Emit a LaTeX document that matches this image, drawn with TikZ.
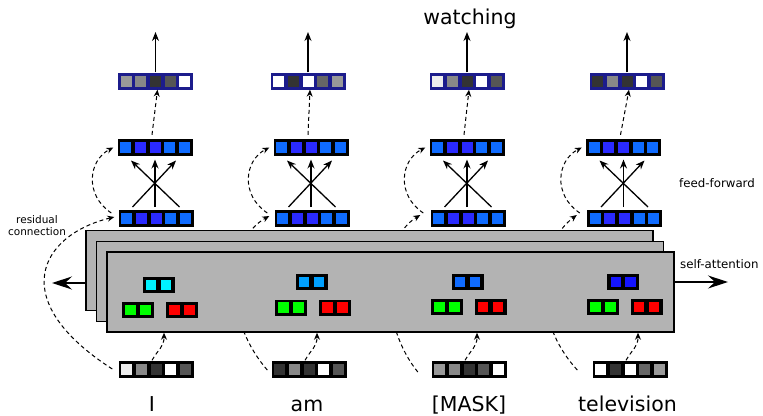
\documentclass[tikz,border=0pt]{standalone}
\usepackage{fontspec}
\setmainfont{DejaVu Sans}
\usetikzlibrary{arrows.meta,calc}

% palette
\definecolor{boxgray}{HTML}{B3B3B3}
\definecolor{embnavy}{HTML}{1C1C8C}
\definecolor{blA}{HTML}{0F6BFF}
\definecolor{blB}{HTML}{2A2AFF}
\definecolor{gE}{HTML}{EEEEEE}
\definecolor{gNine}{HTML}{999999}
\definecolor{gEight}{HTML}{888888}
\definecolor{gSix}{HTML}{666666}
\definecolor{gFive}{HTML}{555555}
\definecolor{gThree}{HTML}{333333}
\definecolor{qCyan}{HTML}{00F2FF}
\definecolor{qSky}{HTML}{00A0FF}
\definecolor{qMid}{HTML}{0F6BFF}
\definecolor{qDeep}{HTML}{1414FF}
\definecolor{kGreen}{HTML}{00FF00}
\definecolor{kRed}{HTML}{FF0000}

\tikzset{
  vecframe/.style={rectangle, inner sep=0, minimum width=75, minimum height=17},
  cellsq/.style={rectangle, inner sep=0, minimum size=11},
  pairframe/.style={rectangle, inner sep=0, minimum width=32, minimum height=16, fill=black},
  attnbox/.style={rectangle, draw=black, fill=boxgray, line width=1.5pt, minimum width=567, minimum height=80},
  solidarrow/.style={line width=1.3pt, -{Stealth[length=9pt,width=7pt]}},
  dasharrow/.style={line width=1pt, dash pattern=on 4pt off 3pt, -{Stealth[length=7pt,width=6pt]}},
  bigarrow/.style={line width=1.3pt, -{Stealth[length=20pt,width=13pt,inset=7pt]}},
  bigword/.style={font=\fontsize{20.5}{24}\selectfont, inner sep=0, anchor=base},
  sidenote/.style={font=\fontsize{11.8}{14}\selectfont, inner sep=0, anchor=base west},
}

% an embedding vector: name, position, frame colour, list of five cell colours
\newcommand{\embvec}[4]{%
  \node[vecframe, fill=#3] (#1) at (#2) {};
  \foreach \cc [count=\k from -2] in {#4}
    \node[cellsq, fill=\cc] at ($(#1.center)+(\k*14.7,0)$) {};
}
% a two-cell query/key/value block: name, position, colour
\newcommand{\qkvpair}[3]{%
  \node[pairframe] (#1) at (#2) {};
  \node[cellsq, minimum size=10.7, fill=#3] at ($(#1.center)+(-7.4,0)$) {};
  \node[cellsq, minimum size=10.7, fill=#3] at ($(#1.center)+(7.4,0)$) {};
}

\begin{document}
\begin{tikzpicture}[x=1pt, y=-1pt]
\useasboundingbox (0,0) rectangle (763,415);

% token embeddings
\embvec{b1}{156,369}{black}{gE,gEight,gThree,white,gFive}
\embvec{b2}{309,369}{black}{gThree,gEight,gThree,white,gFive}
\embvec{b3}{469,369}{black}{gNine,gEight,gThree,gFive,white}
\embvec{b4}{630,369}{black}{white,gThree,white,gSix,gNine}

% feed-forward inputs
\embvec{f1}{156,218}{black}{blA,blB,blB,blA,blA}
\embvec{f2}{312,218}{black}{blA,blB,blB,blA,blA}
\embvec{f3}{468,218}{black}{blA,blB,blB,blA,blA}
\embvec{f4}{624.5,218}{black}{blA,blB,blB,blA,blA}

% feed-forward outputs
\embvec{m1}{155,147.5}{black}{blA,blB,blB,blA,blA}
\embvec{m2}{311,147.5}{black}{blA,blB,blB,blA,blA}
\embvec{m3}{467,147.5}{black}{blA,blB,blB,blA,blA}
\embvec{m4}{623.5,147.5}{black}{blA,blB,blB,blA,blA}

% output distributions
\embvec{o1}{155.5,81}{embnavy}{gNine,gEight,gThree,gFive,white}
\embvec{o2}{308,81}{embnavy}{white,gThree,white,gSix,gNine}
\embvec{o3}{467,81}{embnavy}{gE,gEight,gThree,white,gFive}
\embvec{o4}{627,81}{embnavy}{gThree,gEight,gThree,white,gFive}

% residual connections around the attention block (partly hidden by it)
\draw[dasharrow] ($(b1.west)+(-6,0)$) .. controls (5,300) and (40,235) .. ($(f1.west)+(-4,-1)$);
\draw[dasharrow] ($(b2.west)+(-4,1)$) .. controls ($(b2.west)+(-50,-52)$) and ($(f2.west)+(-48,22)$) .. ($(f2.west)+(-5,-2)$);
\draw[dasharrow] ($(b3.west)+(-13.5,3)$) .. controls ($(b3.west)+(-51,-43)$) and ($(f3.west)+(-53,23)$) .. ($(f3.west)+(-10,-3)$);
\draw[dasharrow] ($(b4.west)+(-15,1)$) .. controls ($(b4.west)+(-62,-50)$) and ($(f4.west)+(-50,27)$) .. ($(f4.west)+(-10,-3)$);

% stacked self-attention heads
\node[attnbox] (back) at (369.5,270.5) {};
\node[attnbox] (middle) at (380,281.5) {};
\node[attnbox] (front) at (390.5,292) {};

% query / key / value blocks
\qkvpair{q1}{158.5,285}{qCyan}
\qkvpair{k1}{138,310}{kGreen}
\qkvpair{v1}{182,310}{kRed}
\qkvpair{q2}{311.5,282}{qSky}
\qkvpair{k2}{291,307.5}{kGreen}
\qkvpair{v2}{335,307.5}{kRed}
\qkvpair{q3}{467.5,282}{qMid}
\qkvpair{k3}{447,307}{kGreen}
\qkvpair{v3}{490.5,307}{kRed}
\qkvpair{q4}{623.3,282}{qDeep}
\qkvpair{k4}{603,307}{kGreen}
\qkvpair{v4}{646.5,307}{kRed}

% arrows out of the attention block
\coordinate (lt) at (52,283);
\coordinate (rt) at (728,282);
\draw[bigarrow] (back.west |- lt) -- (lt);
\draw[bigarrow] (front.east |- rt) -- (rt);

% token embeddings into attention
\foreach \i in {1,...,4} {
  \coordinate (bx\i) at ($(b\i.center)+(8,0)$);
  \coordinate (bs\i) at ($(b\i.north)+(-4,0)$);
  \draw[dasharrow] (bs\i) .. controls +(7,-12) and +(0,14) .. (bx\i |- front.south);
}

% feed-forward layers, residuals and outputs
\coordinate (topline) at (0,32);
\foreach \i in {1,...,4} {
  \draw[solidarrow] ($(f\i.center)+(-23.5,-11)$) -- ($(m\i.center)+(21,13)$);
  \draw[solidarrow] ($(f\i.center)+(23.5,-11)$) -- ($(m\i.center)+(-24,13)$);
  \draw[solidarrow] ($(f\i.center)+(-1,-11)$) -- ($(m\i.center)+(0,12)$);
  \draw[dasharrow] ($(f\i.west)+(-7,-5)$) .. controls ($(f\i.west)+(-34,-23)$) and ($(m\i.west)+(-29,13)$) .. ($(m\i.west)+(-4,0)$);
  \draw[dasharrow] ($(m\i.north)+(-3,-4)$) -- ($(o\i.south)+(2,0)$);
  \draw[solidarrow] (o\i.north) -- (o\i.north |- topline);
}

% labels
\node[bigword] (wWatch) at (470,24) {watching};
\node[bigword] (wI) at (152,411) {I};
\node[bigword] (wAm) at (307,411) {am};
\node[bigword] (wMask) at (469,411) {[MASK]};
\node[bigword] (wTv) at (627.5,411) {television};
\node[sidenote] (lff) at (679,187.5) {feed-forward};
\node[sidenote] (lsa) at (680,268) {self-attention};
\node[font=\fontsize{10.5}{12.4}\selectfont, align=center, inner sep=0, anchor=north] (lres) at (37,215) {residual\\connection};
\end{tikzpicture}
\end{document}
